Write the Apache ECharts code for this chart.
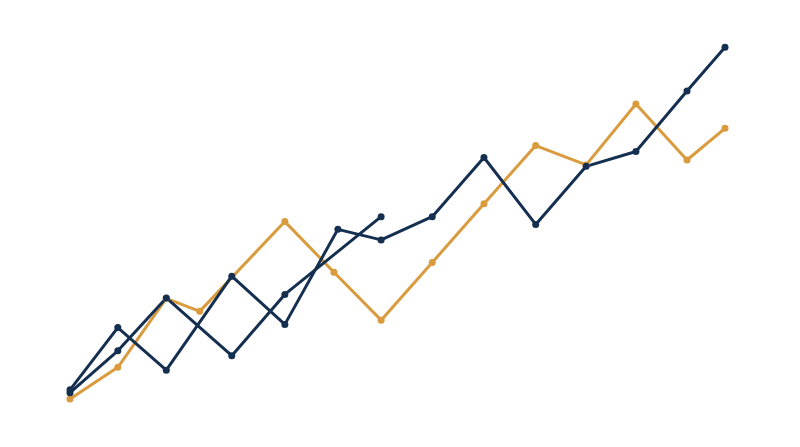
<!DOCTYPE html>
<html>
<head>
<meta charset="utf-8">
<script src="https://cdn.jsdelivr.net/npm/echarts@6/dist/echarts.min.js"></script>
<style>html,body{margin:0;padding:0;background:#fff;}#c{width:800px;height:447px;}</style>
</head>
<body>
<div id="c"></div>
<script>
// Orange series
const orangeX = [0, 7.3, 14.7, 19.8, 32.8, 40.3, 47.5, 55.3, 63.2, 71.1, 78.8, 86.4, 94.2, 100];
const orangeY = [0, 9.0, 28.6, 24.9, 50.4, 36.0, 22.4, 38.8, 55.5, 72.0, 66.5, 83.8, 67.9, 76.9];
// Navy series A (long)
const navyAX = [0, 7.3, 14.7, 24.7, 32.8, 40.9, 47.5, 55.3, 63.2, 71.1, 78.8, 86.4, 94.2, 100];
const navyAY = [2.6, 20.3, 8.2, 34.9, 21.2, 48.2, 45.2, 51.8, 68.6, 49.6, 66.1, 70.3, 87.5, 99.9];
// Navy series B (short)
const navyBX = [0, 7.3, 14.7, 24.7, 32.8, 47.5];
const navyBY = [1.8, 13.7, 28.7, 12.3, 29.7, 51.8];

const zip = (xs, ys) => xs.map((x, i) => [x, ys[i]]);
const ORANGE = '#D99B3D';
const NAVY = '#142F4F';

function lineSeries(name, data, color) {
  return {
    name, type: 'line', data,
    symbol: 'circle', symbolSize: 7,
    lineStyle: { color, width: 3 },
    itemStyle: { color },
    animation: false
  };
}

const chart = echarts.init(document.getElementById('c'));
chart.setOption({
  backgroundColor: '#fff',
  grid: { left: 70, right: 75, top: 47, bottom: 48 },
  xAxis: { type: 'value', min: 0, max: 100, show: false },
  yAxis: { type: 'value', min: 0, max: 100, show: false },
  series: [
    lineSeries('orange', zip(orangeX, orangeY), ORANGE),
    lineSeries('navyB', zip(navyBX, navyBY), NAVY),
    lineSeries('navyA', zip(navyAX, navyAY), NAVY)
  ]
});
</script>
</body>
</html>
